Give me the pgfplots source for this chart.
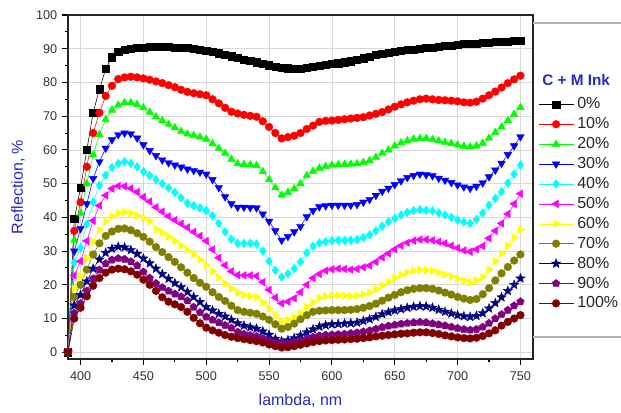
\documentclass[border=0pt]{standalone}
\usepackage{fontspec}
\setmainfont{Liberation Sans}
\usepackage{pgfplots}
\pgfplotsset{compat=1.18}
\usepackage{pgfplotstable}
\usetikzlibrary{plotmarks}

\definecolor{labblue}{RGB}{40,40,200}
\definecolor{cRed}{RGB}{255,0,0}
\definecolor{cBlue}{RGB}{0,0,255}
\definecolor{cGreen}{RGB}{0,255,0}
\definecolor{cCyan}{RGB}{0,255,255}
\definecolor{cMagenta}{RGB}{255,0,255}
\definecolor{cYellow}{RGB}{255,255,0}
\definecolor{cOlive}{RGB}{128,128,0}
\definecolor{cNavy}{RGB}{0,0,128}
\definecolor{cPurple}{RGB}{128,0,128}
\definecolor{cDarkred}{RGB}{128,0,0}

% filled five-point star
\pgfdeclareplotmark{fstar}{%
  \pgfpathmoveto{\pgfpointpolar{90}{1.3\pgfplotmarksize}}%
  \pgfpathlineto{\pgfpointpolar{126}{0.55\pgfplotmarksize}}%
  \pgfpathlineto{\pgfpointpolar{162}{1.3\pgfplotmarksize}}%
  \pgfpathlineto{\pgfpointpolar{198}{0.55\pgfplotmarksize}}%
  \pgfpathlineto{\pgfpointpolar{234}{1.3\pgfplotmarksize}}%
  \pgfpathlineto{\pgfpointpolar{270}{0.55\pgfplotmarksize}}%
  \pgfpathlineto{\pgfpointpolar{306}{1.3\pgfplotmarksize}}%
  \pgfpathlineto{\pgfpointpolar{342}{0.55\pgfplotmarksize}}%
  \pgfpathlineto{\pgfpointpolar{18}{1.3\pgfplotmarksize}}%
  \pgfpathlineto{\pgfpointpolar{54}{0.55\pgfplotmarksize}}%
  \pgfpathclose
  \pgfusepathqfillstroke}

% reflection (%) vs wavelength (nm), C + M ink coverage 0..100 %
\pgfplotstableread{
l   s0   s10  s20  s30  s40  s50  s60  s70  s80  s90  s100
390 0    0    0    0    0    0    0    0    0    0    0
395 39.5 36   33.2 30   26.6 22.8 18.9 16.4 13.9 11.6 10
400 48.7 44.5 41.2 36.7 31   27   22.5 20   17   14.5 13.2
405 60   55   50   44   38   33   27.8 24.5 21   18.2 16.6
410 71   65   58.5 51.5 44.5 39   32.8 29   24.8 21.8 19.7
415 78   71   64.5 56.5 49.5 43.5 36.2 32.3 27.5 24.4 22
420 84   76   69   60.5 52.5 46.5 38.7 34.5 29.5 26.3 23.6
425 87.5 79   71.8 63   54.8 48.5 40.3 35.8 30.7 27.4 24.5
430 89   81   73.3 64.5 56   49.3 41.3 36.6 31.3 27.8 24.8
435 89.8 81.5 74   65   56.5 49.2 41.5 36.7 31.1 27.6 24.6
440 90.1 81.7 74   64.8 56   48.6 41.2 36.2 30.3 26.9 24
445 90.3 81.5 73.5 63.5 55   47.5 40.5 35.3 29.2 25.7 23
450 90.4 81.2 72.5 61.5 53.5 46   39.7 34.2 27.8 23.8 21.5
455 90.5 80.8 71.2 59.8 52.4 44.7 38.8 32.8 26.4 22   20
460 90.6 80.3 69.8 58.3 51.2 43   36.5 31.2 24.8 20.4 18.2
465 90.6 79.8 68.7 57   50   41.7 35.5 29.7 23.2 19.2 16.3
470 90.5 79.2 67.6 56.2 48.7 40.3 34.3 28.2 21.8 18.2 15
475 90.4 78.6 66.6 55.5 47.4 39.2 33   26.8 20.5 17.3 14.2
480 90.3 77.8 65.5 54.9 45.8 38.1 31.6 25.2 19.3 16.5 13.4
485 90.2 77.2 64.7 54.3 44.2 37   30.3 23.6 17.9 15.3 12
490 90   76.8 64.3 53.9 43.4 35.7 29   22   16.4 13.4 10.2
495 89.8 76.5 63.8 53.4 42.8 34.5 27.5 20.6 14.9 11.8 8.6
500 89.5 76.2 63.2 52.8 42   33   25.8 19.4 13.4 10.5 7.3
505 89.1 75   61.8 51.2 40.5 30.5 24   17.8 12.4 9.6  6.5
510 88.7 73.8 60.4 48.8 38.2 28   22.2 16.4 11.4 8.8  5.8
515 88.3 72.5 59   46.1 35.7 25.8 20.4 15.2 10.6 8    5.1
520 87.8 71.3 57.2 44   33.5 24   18.8 13.8 9.6  7.2  4.6
525 87.3 70.8 55.9 43   32.3 22.9 17.7 12.5 8.6  6    4.2
530 86.8 70.4 55.7 43   32.3 22.8 17   12   7.9  5.4  3.9
535 86.4 70.1 55.6 42.9 32.3 22.8 16.6 11.7 7.4  5    3.6
540 86   69.8 55.4 42.8 32.1 22.6 16.3 11.4 7    4.7  3.3
545 85.5 68.5 53.6 41   30   20.8 14.8 10.6 6.2  4.1  2.9
550 85.1 66.8 51.2 38.8 27   18.5 13   9.6  5.2  3.5  2.3
555 84.7 65   48.8 36   24.3 16.2 11   8.3  4    2.9  1.8
560 84.4 63.4 46.6 33.2 22.3 14.5 9.2  7    3.3  2.6  1.4
565 84.2 63.8 47.4 34.3 23.3 15   9.6  7.5  3.6  2.7  1.5
570 84.1 64.2 48.5 35.7 24.8 16   10.4 8.5  4.2  3    1.8
575 84.1 65   50   37.3 26.8 17.8 11.6 9.8  5    3.4  2.2
580 84.3 66.2 52.4 40.2 29.5 20   13.5 11   5.9  3.9  2.6
585 84.6 67.2 53.7 42   31.5 22   14.8 12   6.8  4.5  3
590 84.9 68.3 54.6 43.1 32.4 23.2 16.2 12.3 7.6  4.9  3.3
595 85.2 68.6 55.1 43.4 32.8 24.2 16.6 12.4 8    5.1  3.5
600 85.5 68.7 55.5 43.6 33.1 24.6 16.8 12.5 8.3  5.2  3.6
605 85.7 68.9 55.6 43.6 33.2 24.8 16.9 12.5 8.4  5.3  3.7
610 86   69.1 55.7 43.6 33.2 24.7 16.8 12.5 8.5  5.4  3.8
615 86.3 69.3 55.8 43.6 33.2 24.5 16.6 12.6 8.6  5.6  3.9
620 86.7 69.5 55.9 43.8 33.4 24.7 16.8 12.8 8.8  5.8  4
625 87.2 69.7 56.3 44.5 34   25.2 17.2 13.2 9.3  6.1  4.2
630 87.7 70.2 56.8 45.3 34.8 25.7 17.7 13.7 9.8  6.4  4.4
635 88.2 70.7 57.8 46.5 36   26.8 18.7 14.4 10.5 6.9  4.7
640 88.6 71.2 59   47.7 37.4 28.1 19.8 15.3 11.3 7.4  4.9
645 88.9 72   60   48.6 38.7 29.3 20.9 16.2 11.9 7.8  5.1
650 89.2 72.8 61.2 49.7 39.7 30.5 22   17   12.4 8.1  5.3
655 89.4 73.5 62.1 50.8 40.7 31.6 23   17.8 12.8 8.4  5.5
660 89.6 74.1 62.7 51.8 41.5 32.5 23.7 18.4 13.2 8.6  5.6
665 89.8 74.6 63.2 52.4 42   33.1 24.2 18.8 13.5 8.8  5.8
670 90   75   63.4 52.8 42.3 33.4 24.4 19   13.7 8.9  5.9
675 90.2 75.2 63.4 52.6 42.1 33.4 24.4 19   13.6 8.8  5.9
680 90.4 75   63.1 52.3 41.9 33.2 24.2 18.8 13.2 8.5  5.7
685 90.6 74.8 62.7 51.6 41.3 32.8 23.6 18.3 12.6 8.2  5.4
690 90.8 74.7 62.3 51   40.7 32.3 23.1 17.7 12   7.9  5
695 91   74.6 61.9 50.3 40   31.6 22.5 17.1 11.5 7.5  4.7
700 91.2 74.4 61.5 49.6 39.2 30.9 21.8 16.4 11   7.1  4.4
705 91.4 74.1 61.1 49   38.6 30.2 21.2 15.9 10.7 6.8  4.2
710 91.5 74   60.9 48.6 38.2 29.8 20.8 15.5 10.5 6.6  4.1
715 91.6 74.3 61.2 49.2 39.4 30.5 21.3 15.8 10.8 6.8  4.3
720 91.7 75.2 62   50.2 41.3 31.5 22.3 17.2 11.6 7.5  4.8
725 91.8 76.2 63.5 52   43.6 33.8 24.5 19   13   8.6  5.6
730 92   77.3 65.2 54   45.6 36   27   21.3 14.6 10   6.5
735 92.1 78.5 66.8 56   47.6 38.2 29.3 23.4 16.3 11.2 7.9
740 92.2 79.8 68.7 58.6 50.2 41   31.6 25.3 18.2 12.5 9
745 92.3 80.9 70.6 61.2 52.8 44   34   27.2 20   13.8 10
750 92.4 82   72.6 63.9 55.5 47   36.3 29   21.9 15   11
}\refl

\pgfplotsset{
  ser/.style n args={2}{color=#1, line width=0.4pt, mark=#2, mark size=2.9pt,
    mark options={solid, fill=#1, draw=#1, line width=0.3pt}},
}

\begin{document}
\begin{tikzpicture}
\begin{axis}[
  name=ax,
  scale only axis,
  width=348.75pt, height=258pt,
  xmin=390, xmax=760, ymin=-2, ymax=100,
  xtick={400,450,...,750}, ytick={0,10,...,100},
  minor x tick num=1, minor y tick num=1,
  xtick pos=bottom, ytick pos=left,
  tick align=outside,
  major tick length=4.5pt, minor tick length=2.5pt,
  every tick/.style={black, line width=0.8pt},
  grid=major,
  grid style={gray!30, line width=0.5pt},
  axis line style={black!85, line width=1.1pt},
  /pgf/number format/assume math mode=true,
  tick label style={font=\fontsize{9.5}{11}\selectfont, text=black!80},
  xticklabel style={yshift=-1.5pt},
  xlabel={lambda, nm},
  ylabel={Reflection, \%},
  label style={font=\fontsize{12}{14}\selectfont, text=labblue},
  xlabel style={at={(axis description cs:0.5,-0.122)}, anchor=center},
  ylabel style={at={(axis description cs:-0.1075,0.5)}, anchor=center},
  legend image code/.code={%
    \draw[mark repeat=2, mark phase=2] plot coordinates {(0cm,0cm) (0.46cm,0cm) (0.92cm,0cm)};},
  legend cell align=left,
  legend style={at={(axis description cs:1.011,0.766)}, anchor=north west,
    draw=none, fill=none, inner sep=0pt,
    font=\fontsize{12}{14}\selectfont, text=black!85,
    row sep=2.05pt, nodes={inner xsep=2.6pt, inner ysep=1.5pt}},
]
\addplot[ser={black}{square*}, mark size=2.7pt] table[x=l, y=s0] {\refl};
\addlegendentry{0\%}
\addplot[ser={cRed}{*}] table[x=l, y=s10] {\refl};
\addlegendentry{10\%}
\addplot[ser={cGreen}{triangle*}, mark size=3.3pt] table[x=l, y=s20] {\refl};
\addlegendentry{20\%}
\addplot[ser={cBlue}{triangle*}, mark size=3.3pt, every mark/.append style={rotate=180}] table[x=l, y=s30] {\refl};
\addlegendentry{30\%}
\addplot[ser={cCyan}{diamond*}, mark size=3.3pt] table[x=l, y=s40] {\refl};
\addlegendentry{40\%}
\addplot[ser={cMagenta}{triangle*}, mark size=3.3pt, every mark/.append style={rotate=90}] table[x=l, y=s50] {\refl};
\addlegendentry{50\%}
\addplot[ser={cYellow}{triangle*}, mark size=3.3pt, every mark/.append style={rotate=-90}] table[x=l, y=s60] {\refl};
\addlegendentry{60\%}
\addplot[ser={cOlive}{*}] table[x=l, y=s70] {\refl};
\addlegendentry{70\%}
\addplot[ser={cNavy}{fstar}, mark size=2.8pt] table[x=l, y=s80] {\refl};
\addlegendentry{80\%}
\addplot[ser={cPurple}{pentagon*}, mark size=3pt] table[x=l, y=s90] {\refl};
\addlegendentry{90\%}
\addplot[ser={cDarkred}{*}] table[x=l, y=s100] {\refl};
\addlegendentry{100\%}
\end{axis}
% legend frame, open on the axis side
\draw[gray!60, line width=0.8pt] ([yshift=16.5pt]ax.south east) -- ++(120pt,0) -- ++(0,235.5pt) -- ++(-120pt,0);
\node[anchor=base west, inner sep=0pt, text=labblue, font=\bfseries\fontsize{11.5}{13}\selectfont]
  at ([shift={(6.75pt,204.75pt)}]ax.south east) {C + M Ink};
\pgfresetboundingbox
\path[use as bounding box] ([shift={(-51pt,-40.5pt)}]ax.south west) rectangle ([shift={(414.75pt,269.25pt)}]ax.south west);
\end{tikzpicture}
\end{document}
